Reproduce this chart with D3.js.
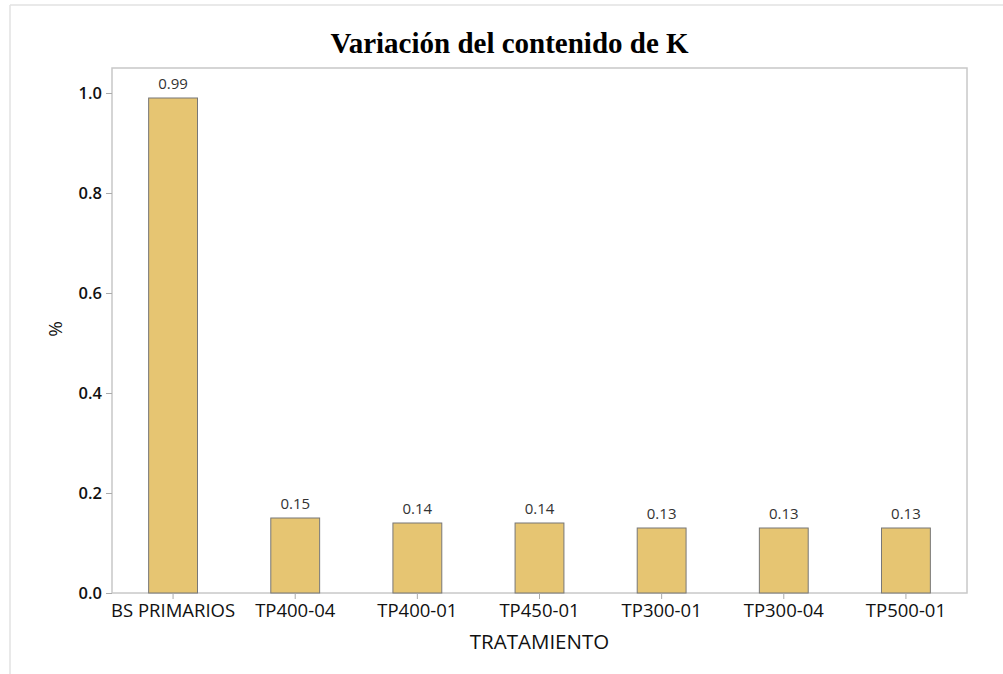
<!DOCTYPE html>
<html>
<head>
<meta charset="utf-8">
<script src="https://cdn.jsdelivr.net/npm/d3@7.9.0/dist/d3.min.js"></script>
<style>
  body { margin: 0; background: #fff; }
  svg { display: block; }
</style>
</head>
<body>
<svg width="1003" height="674"></svg>
<script>
// data
const categories = ["BS PRIMARIOS", "TP400-04", "TP400-01", "TP450-01", "TP300-01", "TP300-04", "TP500-01"];
const values = [0.99, 0.15, 0.14, 0.14, 0.13, 0.13, 0.13];
const yTicks = [0.0, 0.2, 0.4, 0.6, 0.8, 1.0];

const svg = d3.select("svg");
const plot = { left: 112, right: 967, top: 68, bottom: 593 };

// outer frame (only top and left visible)
svg.append("line").attr("x1", 10).attr("x2", 1003).attr("y1", 5).attr("y2", 5)
  .attr("stroke", "#e2e2e2").attr("stroke-width", 1.5);
svg.append("line").attr("x1", 10).attr("x2", 10).attr("y1", 5).attr("y2", 674)
  .attr("stroke", "#e2e2e2").attr("stroke-width", 1.5);

let x = d3.scaleBand()
  .domain(categories)
  .range([plot.left, plot.right])
  .paddingInner(0.6)
  .paddingOuter(0.3);

let y = d3.scaleLinear().domain([0, 1]).range([plot.bottom, plot.bottom - 500]);

// plot frame
svg.append("rect")
  .attr("x", plot.left).attr("y", plot.top)
  .attr("width", plot.right - plot.left).attr("height", plot.bottom - plot.top)
  .attr("fill", "none").attr("stroke", "#c8c8c8").attr("stroke-width", 1.5);

// bars
svg.append("g").selectAll("rect")
  .data(values)
  .join("rect")
  .attr("x", (d, i) => x(categories[i]))
  .attr("y", (d) => y(d))
  .attr("width", x.bandwidth())
  .attr("height", (d) => y(0) - y(d))
  .attr("fill", "#e6c572")
  .attr("stroke", "#777")
  .attr("stroke-width", 1);

// value labels
svg.append("g").selectAll("text")
  .data(values)
  .join("text")
  .attr("x", (d, i) => x(categories[i]) + x.bandwidth() / 2)
  .attr("y", (d) => y(d) - 9)
  .attr("text-anchor", "middle")
  .attr("font-family", "Open Sans, sans-serif")
  .attr("font-size", 15)
  .attr("fill", "#333")
  .text((d) => d.toFixed(2));

// y axis
let yAxis = d3.axisLeft(y).tickValues(yTicks).tickFormat(d3.format(".1f")).tickSize(6).tickPadding(4);
let gy = svg.append("g").attr("transform", `translate(${plot.left},0)`).call(yAxis);
gy.select(".domain").remove();
gy.selectAll(".tick line").attr("stroke", "#aaa");
gy.selectAll(".tick text")
  .attr("font-family", "Open Sans, sans-serif")
  .attr("font-size", 16.5)
  .attr("font-weight", 600)
  .attr("fill", "#111");

// x axis
let xAxis = d3.axisBottom(x).tickSize(6).tickPadding(5);
let gx = svg.append("g").attr("transform", `translate(0,${plot.bottom})`).call(xAxis);
gx.select(".domain").remove();
gx.selectAll(".tick line").attr("stroke", "#aaa");
gx.selectAll(".tick text")
  .attr("font-family", "Open Sans, sans-serif")
  .attr("font-size", 18.5)
  .attr("font-weight", 500)
  .attr("fill", "#111");

// axis titles
svg.append("text")
  .attr("x", (plot.left + plot.right) / 2)
  .attr("y", 649)
  .attr("text-anchor", "middle")
  .attr("font-family", "Open Sans, sans-serif")
  .attr("font-size", 20.5)
  .attr("fill", "#111")
  .text("TRATAMIENTO");

svg.append("text")
  .attr("transform", "translate(62,329) rotate(-90)")
  .attr("text-anchor", "middle")
  .attr("font-family", "Open Sans, sans-serif")
  .attr("font-size", 19)
  .attr("fill", "#111")
  .text("%");

// title
svg.append("text")
  .attr("x", 509.5)
  .attr("y", 53)
  .attr("text-anchor", "middle")
  .attr("font-family", "Liberation Serif, Times New Roman, serif")
  .attr("font-size", 29)
  .attr("font-weight", "bold")
  .attr("fill", "#000")
  .text("Variación del contenido de K");
</script>
</body>
</html>
